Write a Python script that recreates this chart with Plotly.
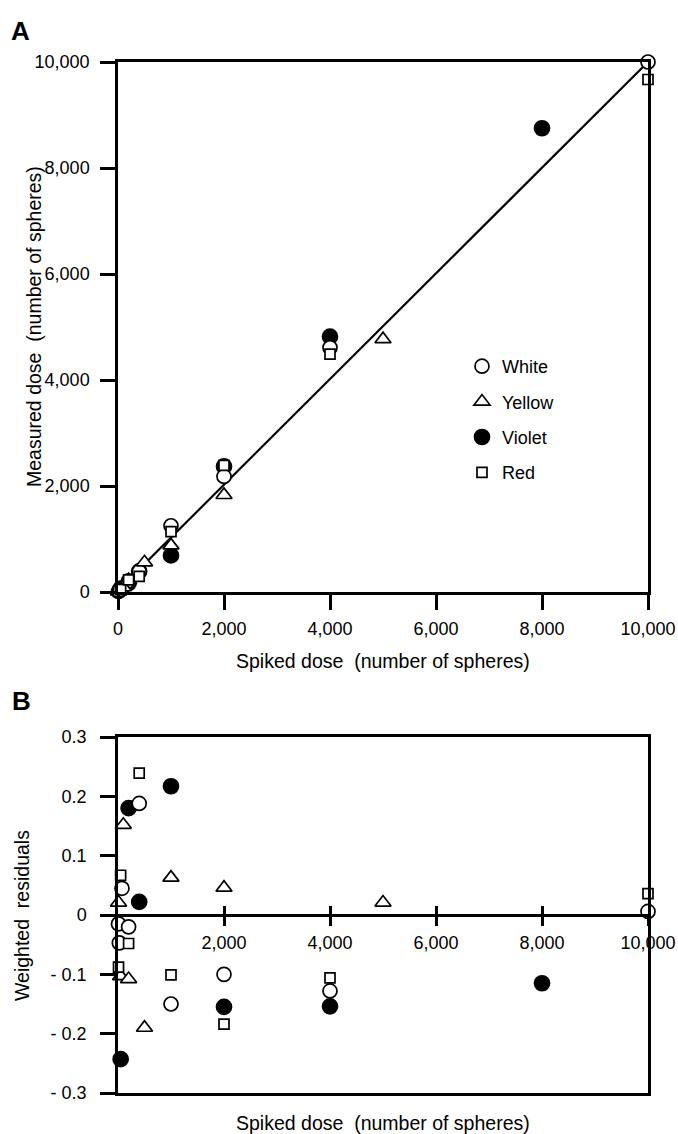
import plotly.graph_objects as go

# ---------------- data ----------------
# spiked dose (number of spheres), measured dose, weighted residuals
white_dose = [10, 25, 75, 200, 400, 1000, 2000, 4000, 10000]
white_meas = [10, 30, 70, 210, 385, 1250, 2180, 4610, 10000]
white_resid = [-0.015, -0.047, 0.045, -0.020, 0.188, -0.150, -0.100, -0.128, 0.006]

yellow_dose = [10, 50, 100, 200, 500, 1000, 2000, 5000]
yellow_meas = [10, 55, 90, 225, 560, 880, 1830, 4770]
yellow_resid = [0.021, -0.103, 0.152, -0.108, -0.190, 0.063, 0.046, 0.021]

violet_dose = [50, 200, 400, 1000, 2000, 4000, 8000]
violet_meas = [65, 170, 390, 690, 2370, 4820, 8750]
violet_resid = [-0.243, 0.180, 0.022, 0.217, -0.155, -0.154, -0.115]

red_dose = [10, 50, 200, 400, 1000, 2000, 4000, 10000]
red_meas = [12, 48, 230, 295, 1140, 2390, 4490, 9670]
red_resid = [-0.088, 0.067, -0.048, 0.239, -0.101, -0.184, -0.106, 0.036]

fit_x = [30, 10000]
fit_y = [60, 10000]

xA_ticks = [0, 2000, 4000, 6000, 8000, 10000]
xA_labels = ["0", "2,000", "4,000", "6,000", "8,000", "10,000"]
yA_ticks = [0, 2000, 4000, 6000, 8000, 10000]
yA_labels = ["0", "2,000", "4,000", "6,000", "8,000", "10,000"]
xB_ticks = [2000, 4000, 6000, 8000, 10000]
xB_labels = ["2,000", "4,000", "6,000", "8,000", "10,000"]
yB_ticks = [-0.3, -0.2, -0.1, 0, 0.1, 0.2, 0.3]
yB_labels = ["- 0.3", "- 0.2", "- 0.1", "0", "0.1", "0.2", "0.3"]

FONT = "Liberation Sans, Arial, Helvetica, sans-serif"

# ---------------- geometry ----------------
FW, FH = 678, 1134

def px_x(p):
    return p / FW

def px_y(p):
    return (FH - p) / FH

xdom = [px_x(118), px_x(648)]
yA_dom = [px_y(592), px_y(62)]
yB_dom = [px_y(1093), px_y(737)]
yB_range = [-0.3, 0.3]
zero_pos = yB_dom[0] + (0 - yB_range[0]) / (yB_range[1] - yB_range[0]) * (yB_dom[1] - yB_dom[0])

series = [
    # name, dose, meas, resid, symbol, fill, size, rank
    ("Violet", violet_dose, violet_meas, violet_resid, "circle", "black", 15, 3),
    ("White", white_dose, white_meas, white_resid, "circle", "white", 14, 1),
    ("Yellow", yellow_dose, yellow_meas, yellow_resid, "triangle-up", "white", 14, 2),
    ("Red", red_dose, red_meas, red_resid, "square", "white", 10, 4),
]

fig = go.Figure()

fig.add_trace(go.Scatter(x=fit_x, y=fit_y, mode="lines",
                         line=dict(color="black", width=2.2),
                         showlegend=False, hoverinfo="skip",
                         xaxis="x", yaxis="y"))

# empty helper traces so that the overlaid frame / crossing-tick axes of panel B render
for ax in ("x3", "x4"):
    fig.add_trace(go.Scatter(x=[None], y=[None], mode="markers", showlegend=False,
                             hoverinfo="skip", xaxis=ax, yaxis="y2"))

for name, d, m, r, sym, fill, size, rank in series:
    mk = dict(symbol=sym, color=fill, size=size,
              line=dict(color="black", width=1.7))
    fig.add_trace(go.Scatter(x=d, y=m, mode="markers", name=name, marker=mk,
                             legendrank=rank, legendgroup=name,
                             cliponaxis=False, xaxis="x", yaxis="y"))
    fig.add_trace(go.Scatter(x=d, y=r, mode="markers", name=name, marker=mk,
                             showlegend=False, cliponaxis=False,
                             xaxis="x2", yaxis="y2"))

tickfont = dict(family=FONT, size=18, color="black")
common = dict(showgrid=False, zeroline=False, linecolor="black", linewidth=2.5,
              tickcolor="black", tickfont=tickfont, fixedrange=True,
              automargin=False)

fig.update_layout(
    template="none",
    width=FW, height=FH, autosize=False,
    margin=dict(l=0, r=0, t=0, b=0, pad=0),
    paper_bgcolor="white", plot_bgcolor="white",
    font=dict(family=FONT, color="black"),
    xaxis=dict(domain=xdom, range=[0, 10000], anchor="y", showline=True, mirror=True,
               ticks="outside", ticklen=15, tickwidth=3, ticklabelstandoff=4,
               tickvals=xA_ticks, ticktext=xA_labels, **common),
    yaxis=dict(domain=yA_dom, range=[0, 10000], anchor="x", showline=True, mirror=True,
               ticks="outside", ticklen=15, tickwidth=3, ticklabelstandoff=7,
               tickvals=yA_ticks, ticktext=yA_labels, **common),
    xaxis2=dict(domain=xdom, range=[0, 10000], anchor="free", position=zero_pos,
                showline=True, ticks="outside", ticklen=9, tickwidth=3,
                ticklabelstandoff=2,
                tickvals=xB_ticks, ticktext=xB_labels, **common),
    xaxis3=dict(domain=xdom, range=[0, 10000], anchor="free", position=zero_pos,
                overlaying="x2", showline=False, ticks="inside", ticklen=9, tickwidth=3,
                tickvals=xB_ticks, showticklabels=False, **common),
    xaxis4=dict(domain=xdom, range=[0, 10000], anchor="y2", overlaying="x2",
                showline=True, mirror=True, ticks="", showticklabels=False, **common),
    yaxis2=dict(domain=yB_dom, range=yB_range, anchor="x4", showline=True, mirror=True,
                ticks="outside", ticklen=15, tickwidth=3, ticklabelstandoff=10,
                tickvals=yB_ticks, ticktext=yB_labels, **common),
    legend=dict(x=px_x(462), y=px_y(348), xanchor="left", yanchor="top",
                font=dict(family=FONT, size=18, color="black"),
                bgcolor="rgba(0,0,0,0)", borderwidth=0,
                traceorder="grouped", tracegroupgap=9, itemclick=False),
)

title_font = dict(family=FONT, size=19.5, color="black")
ann = [
    dict(text="<b>A</b>", x=px_x(20), y=px_y(31), font=dict(family=FONT, size=26, color="black")),
    dict(text="<b>B</b>", x=px_x(21), y=px_y(701), font=dict(family=FONT, size=26, color="black")),
    dict(text="Spiked dose\u00a0 (number of spheres)", x=px_x(383), y=px_y(661), font=title_font),
    dict(text="Spiked dose\u00a0 (number of spheres)", x=px_x(383), y=px_y(1123), font=title_font),
    dict(text="Measured dose\u00a0 (number of spheres)", x=px_x(34), y=px_y(327), textangle=-90, font=title_font),
    dict(text="Weighted\u00a0 residuals", x=px_x(22), y=px_y(916), textangle=-90, font=title_font),
]
for a in ann:
    a.update(xref="paper", yref="paper", showarrow=False, xanchor="center", yanchor="middle")
fig.update_layout(annotations=ann)

# remove the browser's default 8px body margin so the figure fills the window
fig.write_html("out.html", config={"displayModeBar": False},
               post_script="document.body.style.margin='0';")
